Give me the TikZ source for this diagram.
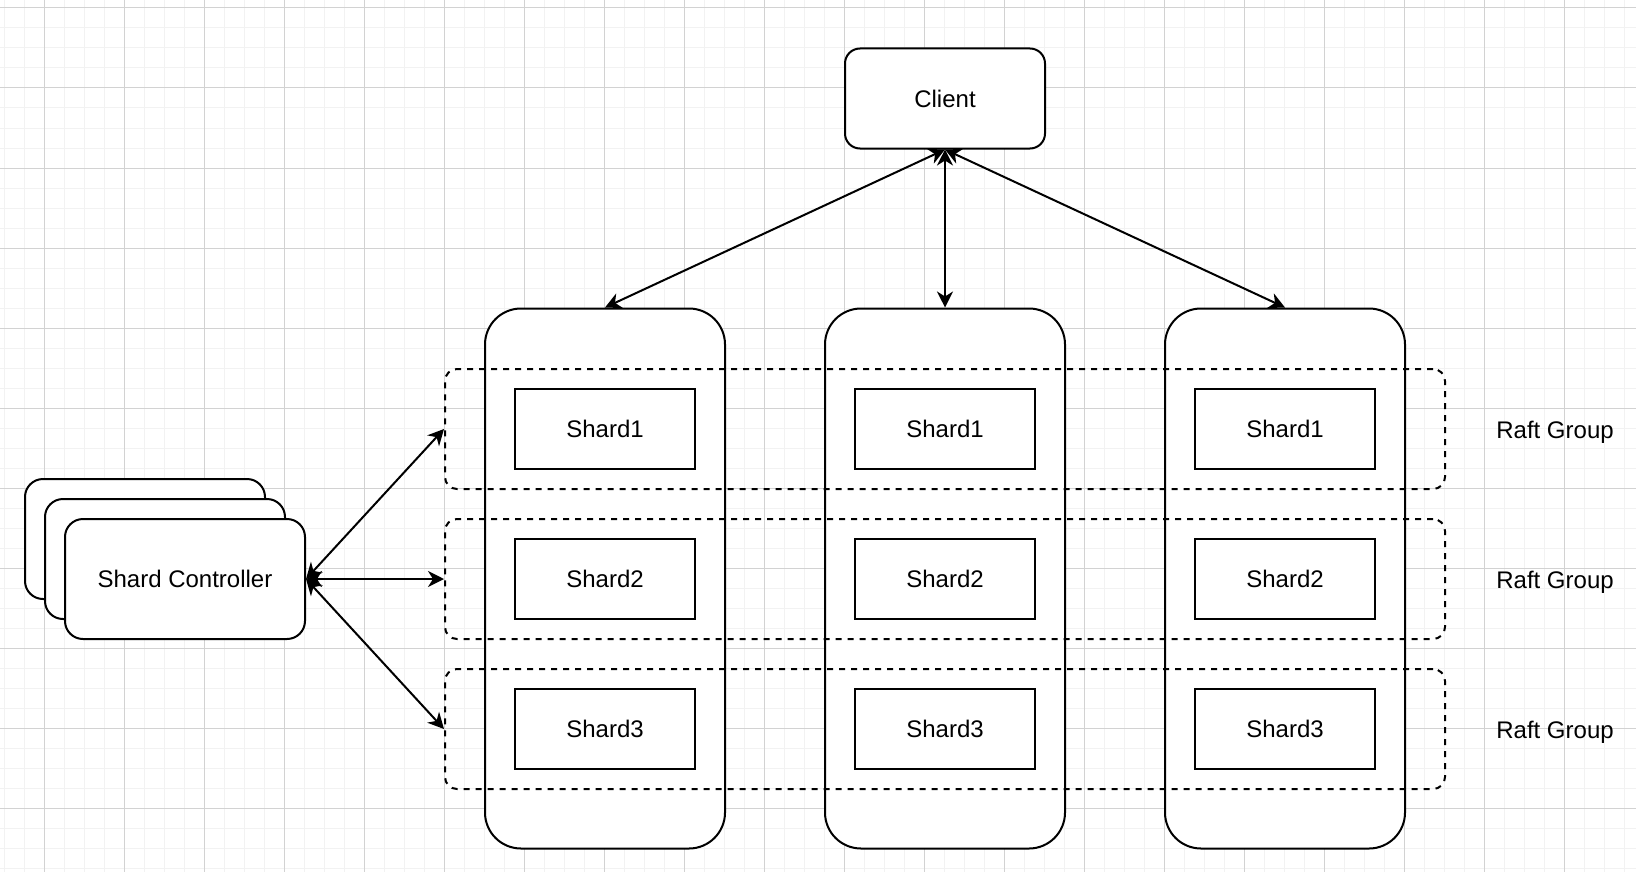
\documentclass[tikz,border=0pt]{standalone}
\usepackage{fontspec}
\setmainfont{Liberation Sans}
\usetikzlibrary{arrows.meta}
\definecolor{gridminor}{RGB}{242,242,242}
\definecolor{gridmajor}{RGB}{210,210,210}

\begin{document}
\begin{tikzpicture}[x=0.5pt, y=-0.5pt, font=\fontsize{12}{14}\selectfont,
  >={Stealth[length=8pt, width=8pt, inset=2.5pt]},
  box/.style={draw, line width=1pt, fill=white, align=center, inner sep=0pt},
  client/.style={box, rounded corners=7.5pt, minimum width=100pt, minimum height=50pt},
  server/.style={box, rounded corners=18pt, minimum width=120pt, minimum height=270pt},
  shard/.style={box, minimum width=90pt, minimum height=40pt},
  ctrl/.style={box, rounded corners=9pt, minimum width=120pt, minimum height=60pt},
  raft/.style={draw, line width=1pt, dash pattern=on 3pt off 3pt, rounded corners=6pt,
    minimum width=500pt, minimum height=60pt, inner sep=0pt},
  label/.style={text height=9pt, text depth=0pt},
  link/.style={<->, line width=1pt}]
  \useasboundingbox (0,0) rectangle (1636,872);
  \fill[white] (0,0) rectangle (1636,872);
  \foreach \gx in {4,24,...,1636} \draw[gridminor, line width=0.5pt] (\gx,0) -- (\gx,872);
  \foreach \gy in {8,28,...,872} \draw[gridminor, line width=0.5pt] (0,\gy) -- (1636,\gy);
  \foreach \gx in {44,124,...,1636} \draw[gridmajor, line width=0.5pt] (\gx,0) -- (\gx,872);
  \foreach \gy in {8,88,...,872} \draw[gridmajor, line width=0.5pt] (0,\gy) -- (1636,\gy);

  \node[client] (C) at (945,98.5) {Client};

  \node[server] (N1) at (605,578.5) {};
  \node[server] (N2) at (945,578.5) {};
  \node[server] (N3) at (1285,578.5) {};

  \node[raft] (R1) at (945,429) {};
  \node[raft] (R2) at (945,579) {};
  \node[raft] (R3) at (945,729) {};

  \node[shard] (A1) at (605,429) {Shard1};
  \node[shard] (A2) at (605,579) {Shard2};
  \node[shard] (A3) at (605,729) {Shard3};
  \node[shard] (B1) at (945,429) {Shard1};
  \node[shard] (B2) at (945,579) {Shard2};
  \node[shard] (B3) at (945,729) {Shard3};
  \node[shard] (D1) at (1285,429) {Shard1};
  \node[shard] (D2) at (1285,579) {Shard2};
  \node[shard] (D3) at (1285,729) {Shard3};

  \node[label] (L1) at (1555,429) {Raft Group};
  \node[label] (L2) at (1555,579) {Raft Group};
  \node[label] (L3) at (1555,729) {Raft Group};

  \node[ctrl] (SCb) at (145,539) {};
  \node[ctrl] (SCm) at (165,559) {};
  \node[ctrl] (SC) at (185,579) {Shard Controller};

  \draw[link] (C.south) -- (N1.north);
  \draw[link] (C.south) -- (N2.north);
  \draw[link] (C.south) -- (N3.north);
  \draw[link] (SC.east) -- (R1.west);
  \draw[link] (SC.east) -- (R2.west);
  \draw[link] (SC.east) -- (R3.west);
\end{tikzpicture}
\end{document}
